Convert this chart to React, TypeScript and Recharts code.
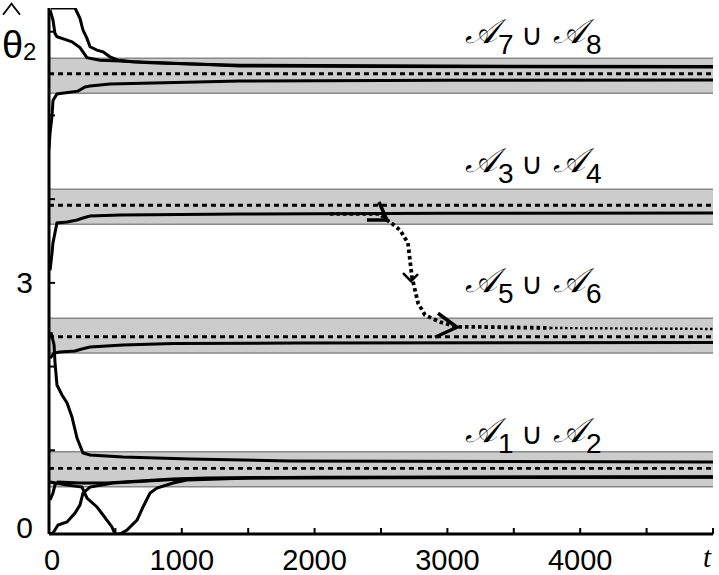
import React from 'react';
import { LineChart, Line, XAxis, YAxis, ReferenceArea, ReferenceLine, ReferenceDot } from 'recharts';

const TWO_PI = 6.2832;
const xTicks = [0, 500, 1000, 1500, 2000, 2500, 3000, 3500, 4000, 4500, 5000];
const xLabels: Record<number, string> = { 0: '0', 1000: '1000', 2000: '2000', 3000: '3000', 4000: '4000' };
const yTicks = [0, 1, 2, 3, 4, 5, 6];

// equilibria (dashed) and neighbourhood bands
const bandCenter = [0.785, 2.356, 3.927, 5.498];
const bandLow = [0.565, 2.163, 3.700, 5.265];
const bandHigh = [0.983, 2.577, 4.118, 5.683];

// set labels
const labelT = [3132, 3132, 3132, 3132];
const labelV = [5.865, 4.324, 2.89, 1.1];
const labelA = ['7', '3', '5', '1'];
const labelB = ['8', '4', '6', '2'];

// trajectories
const t1 = [
  { t: 8, v: 6.26 }, { t: 30, v: 6.14 }, { t: 45, v: 5.98 }, { t: 60, v: 5.94 }, { t: 136, v: 5.9 },
  { t: 173, v: 5.88 }, { t: 233, v: 5.81 }, { t: 286, v: 5.69 }, { t: 384, v: 5.66 }, { t: 535, v: 5.65 },
  { t: 761, v: 5.63 }, { t: 1137, v: 5.61 }, { t: 1438, v: 5.59 }, { t: 2500, v: 5.585 }, { t: 5000, v: 5.578 },
];
const t2 = [
  { t: 15, v: 6.283 }, { t: 196, v: 6.283 }, { t: 233, v: 6.16 }, { t: 256, v: 6.02 }, { t: 286, v: 5.92 },
  { t: 309, v: 5.82 }, { t: 361, v: 5.78 }, { t: 407, v: 5.76 }, { t: 459, v: 5.7 }, { t: 520, v: 5.66 },
  { t: 633, v: 5.64 }, { t: 1137, v: 5.61 }, { t: 1438, v: 5.6 }, { t: 3000, v: 5.59 }, { t: 5000, v: 5.584 },
];
const t3 = [
  { t: 0, v: 4.6 }, { t: 8, v: 4.79 }, { t: 23, v: 5.0 }, { t: 30, v: 5.18 }, { t: 60, v: 5.256 },
  { t: 218, v: 5.29 }, { t: 271, v: 5.34 }, { t: 309, v: 5.351 }, { t: 459, v: 5.375 }, { t: 1438, v: 5.41 },
  { t: 3000, v: 5.42 }, { t: 5000, v: 5.423 },
];
const b1 = [
  { t: 8, v: 3.15 }, { t: 23, v: 3.36 }, { t: 30, v: 3.48 }, { t: 60, v: 3.715 }, { t: 136, v: 3.727 },
  { t: 211, v: 3.751 }, { t: 256, v: 3.775 }, { t: 309, v: 3.799 }, { t: 535, v: 3.811 }, { t: 1438, v: 3.823 },
  { t: 3000, v: 3.83 }, { t: 5000, v: 3.835 },
];
const m1 = [
  { t: 8, v: 2.1 }, { t: 38, v: 2.162 }, { t: 83, v: 2.174 }, { t: 196, v: 2.186 }, { t: 248, v: 2.21 },
  { t: 309, v: 2.234 }, { t: 557, v: 2.257 }, { t: 934, v: 2.275 }, { t: 1890, v: 2.281 }, { t: 5000, v: 2.287 },
];
const l1 = [
  { t: 15, v: 2.41 }, { t: 38, v: 2.26 }, { t: 45, v: 2.054 }, { t: 60, v: 1.78 }, { t: 98, v: 1.66 },
  { t: 136, v: 1.565 }, { t: 173, v: 1.398 }, { t: 211, v: 1.147 }, { t: 256, v: 0.968 }, { t: 309, v: 0.944 },
  { t: 557, v: 0.92 }, { t: 1062, v: 0.896 }, { t: 1815, v: 0.872 }, { t: 5000, v: 0.86 },
];
const l2 = [
  { t: 8, v: 0.406 }, { t: 30, v: 0.49 }, { t: 45, v: 0.585 }, { t: 68, v: 0.621 }, { t: 233, v: 0.609 },
  { t: 437, v: 0.609 }, { t: 685, v: 0.633 }, { t: 934, v: 0.657 }, { t: 1190, v: 0.669 }, { t: 2000, v: 0.678 },
  { t: 5000, v: 0.681 },
];
const l3 = [
  { t: 8, v: 0.621 }, { t: 136, v: 0.585 }, { t: 248, v: 0.561 }, { t: 286, v: 0.43 }, { t: 361, v: 0.323 },
  { t: 407, v: 0.227 }, { t: 474, v: 0.084 }, { t: 497, v: 0 }, { t: 535, v: 0 }, { t: 587, v: 0.048 },
  { t: 663, v: 0.167 }, { t: 708, v: 0.323 }, { t: 761, v: 0.49 }, { t: 813, v: 0.549 }, { t: 934, v: 0.609 },
  { t: 1039, v: 0.645 }, { t: 1514, v: 0.669 }, { t: 5000, v: 0.681 },
];
const l4 = [
  { t: 8, v: 0 }, { t: 30, v: 0.012 }, { t: 68, v: 0.108 }, { t: 136, v: 0.143 }, { t: 196, v: 0.251 },
  { t: 233, v: 0.346 }, { t: 256, v: 0.49 }, { t: 309, v: 0.561 }, { t: 482, v: 0.609 }, { t: 934, v: 0.65 },
  { t: 1500, v: 0.672 }, { t: 5000, v: 0.681 },
];
// switching trajectory (dotted)
const d1 = [
  { t: 2116, v: 3.823 }, { t: 2492, v: 3.823 }, { t: 2545, v: 3.75 }, { t: 2568, v: 3.727 }, { t: 2643, v: 3.631 },
  { t: 2703, v: 3.476 }, { t: 2718, v: 3.273 }, { t: 2733, v: 3.07 }, { t: 2756, v: 2.914 }, { t: 2779, v: 2.759 },
  { t: 2831, v: 2.616 }, { t: 2944, v: 2.532 }, { t: 3072, v: 2.473 }, { t: 3268, v: 2.473 }, { t: 3773, v: 2.461 },
];
const d2 = [{ t: 3773, v: 2.461 }, { t: 5000, v: 2.449 }];

// arrow tips
const arrowT = [2545, 2726, 3072];
const arrowV = [3.75, 3.02, 2.47];

const solidCurves = [t1, t2, t3, b1, m1, l1, l2, l3, l4];

const SANS = "'Liberation Sans', Arial, sans-serif";
const SCRIPT_A = '\u{1D49C}';

function XTick(props: any) {
  const { x, y, payload } = props;
  const v = payload.value;
  if (v === 5000) {
    return (
      <text x={x - 6} y={y + 39} textAnchor="middle" fontFamily="'Liberation Serif', serif" fontStyle="italic" fontSize={29} fill="#000">t</text>
    );
  }
  const lab = xLabels[v];
  if (!lab) return null;
  return (
    <text x={x + (v === 0 ? 3 : 0)} y={y + 42} textAnchor="middle" fontFamily={SANS} fontSize={29} fill="#000">{lab}</text>
  );
}

function YTick(props: any) {
  const { x, y, payload } = props;
  const v = payload.value;
  if (v === 0) return <text x={x - 22} y={y + 4} textAnchor="end" fontFamily={SANS} fontSize={30} fill="#000">0</text>;
  if (v === 3) return <text x={x - 22} y={y + 10.5} textAnchor="end" fontFamily={SANS} fontSize={30} fill="#000">3</text>;
  if (v === 6) {
    return (
      <g>
        <text x={x - 53} y={y + 26} fontFamily={SANS} fontSize={38} fill="#000">θ</text>
        <text x={x - 32} y={y + 28} fontFamily={SANS} fontSize={24} fill="#000">2</text>
        <path d={`M ${x - 52} ${y - 17} L ${x - 43.5} ${y - 28} L ${x - 35} ${y - 17}`} fill="none" stroke="#000" strokeWidth={1.8} />
      </g>
    );
  }
  return null;
}

function SetLabel(props: any) {
  const { cx, cy, a, b } = props;
  return (
    <g fill="#000">
      <text x={cx} y={cy} fontFamily="'DejaVu Serif', serif" fontStyle="italic" fontSize={34}>{SCRIPT_A}</text>
      <text x={cx + 33} y={cy + 11} fontFamily={SANS} fontSize={28}>{a}</text>
      <text x={cx + 56} y={cy + 2} fontFamily="'DejaVu Sans', sans-serif" fontSize={30}>∪</text>
      <text x={cx + 88} y={cy} fontFamily="'DejaVu Serif', serif" fontStyle="italic" fontSize={34}>{SCRIPT_A}</text>
      <text x={cx + 121} y={cy + 11} fontFamily={SANS} fontSize={28}>{b}</text>
    </g>
  );
}

const arrowShapes = [
  { pts: [[-8, -18], [-20, 0]], w: 3.5 },
  { pts: [[-8, -8], [7, -7]], w: 2.5 },
  { pts: [[-19, -14], [-22, 10]], w: 3.5 },
];

function Arrow(props: any) {
  const { cx, cy, idx } = props;
  const s = arrowShapes[idx];
  return (
    <path
      d={`M ${cx + s.pts[0][0]} ${cy + s.pts[0][1]} L ${cx} ${cy} L ${cx + s.pts[1][0]} ${cy + s.pts[1][1]}`}
      fill="none" stroke="#000" strokeWidth={s.w} strokeLinejoin="miter" strokeLinecap="butt"
    />
  );
}

export default function App() {
  return (
    <div style={{ position: 'absolute', left: 0, top: 0, width: 719, height: 575, background: '#fff' }}>
      <LineChart width={719} height={575} margin={{ top: 8, right: 6, bottom: 0, left: 0 }}>
        <XAxis xAxisId="b" dataKey="t" type="number" domain={[0, 5000]} ticks={xTicks} interval={0}
          height={41} axisLine={{ stroke: '#000', strokeWidth: 3 }} tickLine={{ stroke: '#000', strokeWidth: 2 }}
          tickSize={-6} tickMargin={0} tick={<XTick />} allowDataOverflow />
        <XAxis xAxisId="top" orientation="top" dataKey="t" type="number" domain={[0, 5000]} ticks={xTicks} interval={0}
          height={0} axisLine={{ stroke: '#000', strokeWidth: 3 }} tickLine={{ stroke: '#000', strokeWidth: 2 }}
          tickSize={-6} tick={false} allowDataOverflow />
        <YAxis yAxisId="l" dataKey="v" type="number" domain={[0, TWO_PI]} ticks={yTicks} interval={0}
          width={49} axisLine={{ stroke: '#000', strokeWidth: 3 }} tickLine={{ stroke: '#000', strokeWidth: 2 }}
          tickSize={-6} tickMargin={0} tick={<YTick />} allowDataOverflow />
        <YAxis yAxisId="r" orientation="right" dataKey="v" type="number" domain={[0, TWO_PI]} ticks={yTicks} interval={0}
          width={0} axisLine={{ stroke: '#000', strokeWidth: 3 }} tickLine={{ stroke: '#000', strokeWidth: 2 }}
          tickSize={-6} tick={false} allowDataOverflow />

        {bandCenter.map((c, i) => (
          <ReferenceArea key={'a' + i} xAxisId="b" yAxisId="l" x1={0} x2={5000} y1={bandLow[i]} y2={bandHigh[i]}
            fill="#cccccc" fillOpacity={1} stroke="none" ifOverflow="visible" />
        ))}
        {bandCenter.map((c, i) => (
          <ReferenceLine key={'lo' + i} xAxisId="b" yAxisId="l" y={bandLow[i]} stroke="#888888" strokeWidth={1.5} />
        ))}
        {bandCenter.map((c, i) => (
          <ReferenceLine key={'hi' + i} xAxisId="b" yAxisId="l" y={bandHigh[i]} stroke="#888888" strokeWidth={1.5} />
        ))}
        {bandCenter.map((c, i) => (
          <ReferenceLine key={'c' + i} xAxisId="b" yAxisId="l" y={c} stroke="#000" strokeWidth={2.8} strokeDasharray="5 4" />
        ))}

        {solidCurves.map((d, i) => (
          <Line key={'s' + i} xAxisId="b" yAxisId="l" data={d} dataKey="v" type="linear" stroke="#000" strokeWidth={3}
            dot={false} activeDot={false} isAnimationActive={false} />
        ))}
        <Line xAxisId="b" yAxisId="l" data={d1} dataKey="v" type="linear" stroke="#000" strokeWidth={3.8}
          strokeDasharray="3.5 3" dot={false} activeDot={false} isAnimationActive={false} />
        <Line xAxisId="b" yAxisId="l" data={d2} dataKey="v" type="linear" stroke="#000" strokeWidth={2.4}
          strokeDasharray="2.5 2.5" dot={false} activeDot={false} isAnimationActive={false} />

        {arrowT.map((t, i) => (
          <ReferenceDot key={'ar' + i} xAxisId="b" yAxisId="l" x={t} y={arrowV[i]} r={1}
            shape={(p: any) => <Arrow {...p} idx={i} />} />
        ))}
        {labelT.map((t, i) => (
          <ReferenceDot key={'lb' + i} xAxisId="b" yAxisId="l" x={t} y={labelV[i]} r={1}
            shape={(p: any) => <SetLabel {...p} a={labelA[i]} b={labelB[i]} />} />
        ))}
      </LineChart>
    </div>
  );
}
